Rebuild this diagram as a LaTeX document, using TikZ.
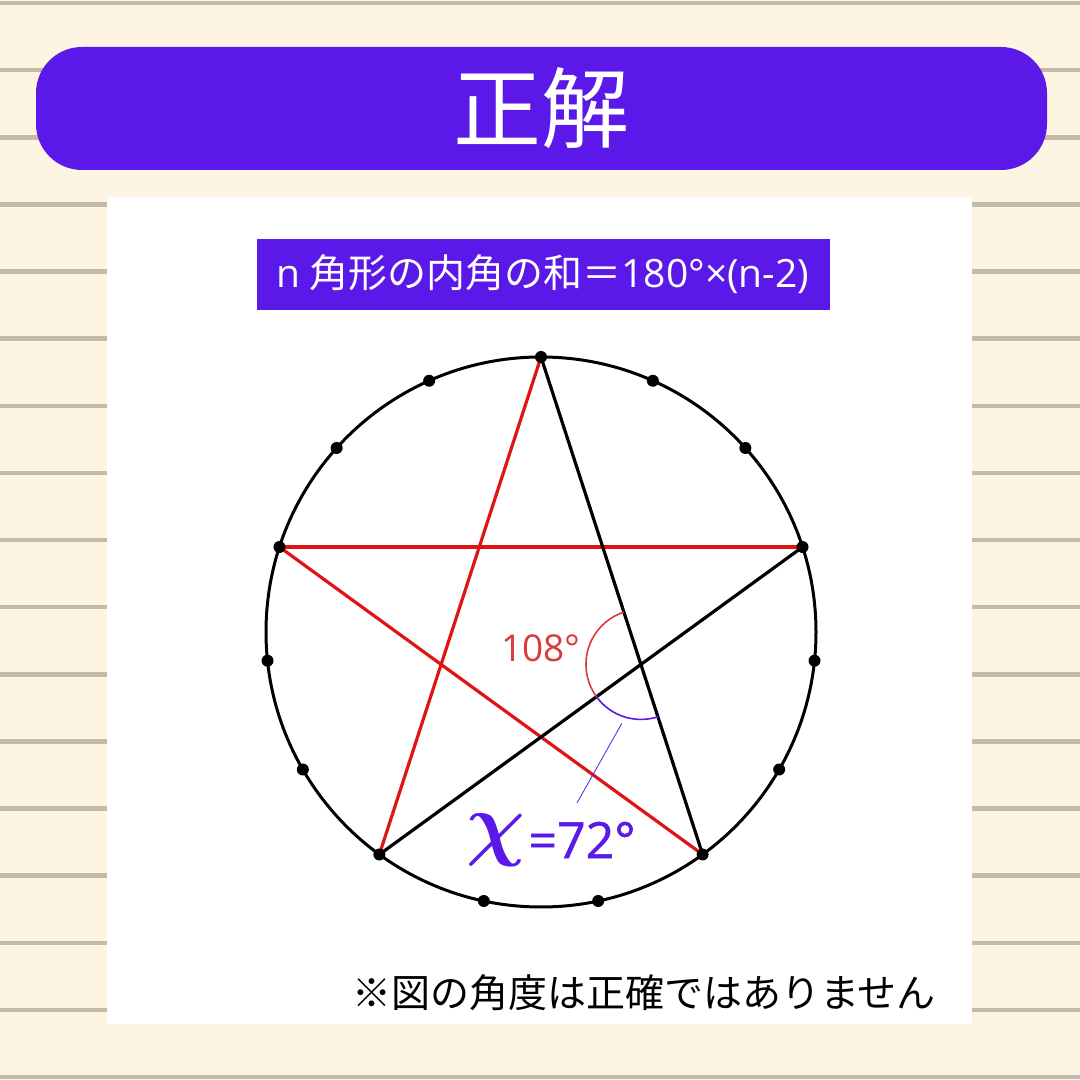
\documentclass[tikz,border=0pt]{standalone}
\usepackage{fontspec}
\setmainfont{Noto Sans CJK JP}
\newfontfamily\latinfont{Open Sans}
\newfontfamily\semifont[FakeBold=1.1]{Open Sans}
\usepackage{xcolor}
\usetikzlibrary{calc}

\definecolor{paper}{HTML}{FDF5E1}
\definecolor{rule}{HTML}{C4BBA8}
\definecolor{violet}{HTML}{5A19E8}
\definecolor{starred}{HTML}{E01414}
\definecolor{anglered}{HTML}{DC3A3A}

\tikzset{
  ruleline/.style={draw=rule, line width=4.5pt},
  starline/.style={line width=3.2pt, line cap=round},
  dot/.style={fill=black},
}

\begin{document}
\begin{tikzpicture}[x=1pt, y=1pt]

% Background
\useasboundingbox (0,0) rectangle (1080,1080);
\fill[paper] (0,0) rectangle (1080,1080);
\foreach \i in {0,...,16}
  \draw[ruleline] (0,1077-67.13*\i) -- (1080,1077-67.13*\i);

% Banner
\fill[violet, rounded corners=46pt] (36,910) rectangle (1047,1033);
\node[text=white, font=\fontsize{88}{88}\selectfont] (title) at (541.5,972) {正解};

% Panel
\fill[white] (107,56) rectangle (972,883);
\node[fill=violet, text=white, minimum width=573pt, minimum height=71pt,
  inner sep=0pt, font=\fontsize{39}{39}\selectfont] (formula) at (543,805.5)
  {{\latinfont n} 角形の内角の和＝{\latinfont 180°×(n-2)}};

% Circle
\coordinate (O) at (541,448);
\draw[line width=3pt] (O) circle (275pt);

% Points
\foreach \k in {0,...,14}
  \coordinate (p\k) at ($(O)+(90+24*\k:275pt)$);

% Star lines
\draw[starline, starred] (p0) -- (p6);
\draw[starline, starred] (p3) -- (p12);
\draw[starline, starred] (p3) -- (p9);
\draw[starline] (p0) -- (p9);
\draw[starline] (p12) -- (p6);

\foreach \k in {0,...,14}
  \fill[dot] (p\k) circle (6pt);

% Angles
\coordinate (X) at (intersection of p0--p9 and p12--p6);
\draw[anglered, line width=1.6pt] ($(X)+(108:55pt)$) arc (108:216:55pt);
\draw[violet, line width=1.6pt] ($(X)+(216:55pt)$) arc (216:288:55pt);
\coordinate (L1) at ($(X)+(252:62pt)$);
\coordinate (L2) at (577,277);
\draw[violet, line width=0.8pt] (L1) -- (L2);

% Labels
\node[text=anglered, font=\latinfont\fontsize{37}{37}\selectfont] (lbl108) at (541,432) {108°};
\node[text=violet, scale=8.2, font=\boldmath] (chi) at (496,240) {$\chi$};
\node[text=violet, font=\semifont\fontsize{50}{50}\selectfont, anchor=west] (lbl72) at (525,240) {=72°};
\node[font=\fontsize{39}{39}\selectfont] (note) at (644,87) {※図の角度は正確ではありません};

\end{tikzpicture}
\end{document}
